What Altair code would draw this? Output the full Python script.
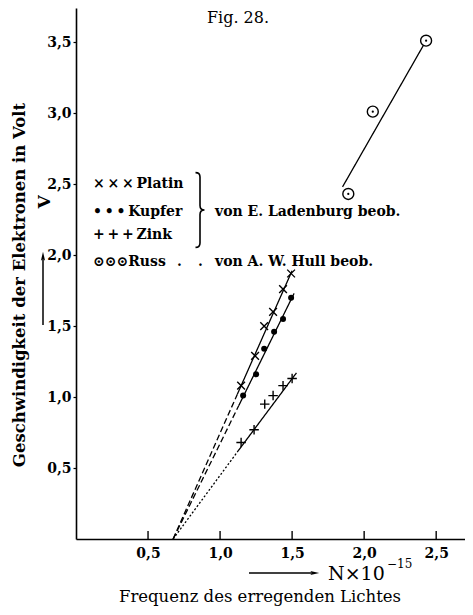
import altair as alt
import pandas as pd

SERIF = "DejaVu Serif"

# ---- data ----
platin_x = [1.146, 1.243, 1.306, 1.368, 1.437, 1.493]
platin_y = [1.08, 1.29, 1.50, 1.60, 1.76, 1.87]
kupfer_x = [1.16, 1.25, 1.306, 1.375, 1.437, 1.493]
kupfer_y = [1.01, 1.16, 1.34, 1.46, 1.55, 1.70]
zink_x = [1.146, 1.236, 1.31, 1.368, 1.437, 1.50]
zink_y = [0.68, 0.77, 0.95, 1.01, 1.08, 1.13]
russ_x = [1.89, 2.06, 2.43]
russ_y = [2.43, 3.01, 3.51]

# fitted lines: [intercept point, start of solid part, end]
platin_fit_x = [0.674, 1.12, 1.50]
platin_fit_y = [0.0, 1.02, 1.89]
kupfer_fit_x = [0.674, 1.13, 1.514]
kupfer_fit_y = [0.0, 0.94, 1.73]
zink_fit_x = [0.674, 1.125, 1.53]
zink_fit_y = [0.0, 0.62, 1.17]
russ_fit_x = [1.85, 2.43]
russ_fit_y = [2.48, 3.51]

x_ticks = [0.5, 1.0, 1.5, 2.0, 2.5]
y_ticks = [0.5, 1.0, 1.5, 2.0, 2.5, 3.0, 3.5]

W, H = 389, 531
XMAX, YMAX = 2.70, 3.74

xs = alt.Scale(domain=[0, XMAX], nice=False, zero=False)
ys = alt.Scale(domain=[0, YMAX], nice=False, zero=False)

label_expr = "replace(format(datum.value, '.1f'), '.', ',')"

X = alt.X("x:Q", scale=xs, title=None,
          axis=alt.Axis(values=x_ticks, labelExpr=label_expr, tickSize=0,
                        labelFont=SERIF, labelFontWeight="bold", labelFontSize=14,
                        labelColor="black", labelPadding=7, domainColor="black",
                        domainWidth=1.6, grid=False))
Y = alt.Y("y:Q", scale=ys, title=None,
          axis=alt.Axis(values=y_ticks, labelExpr=label_expr, tickSize=3,
                        tickColor="black", tickWidth=1.2,
                        labelFont=SERIF, labelFontWeight="bold", labelFontSize=14,
                        labelColor="black", labelPadding=2, domainColor="black",
                        domainWidth=1.6, grid=False))


def pts(xv, yv):
    return pd.DataFrame({"x": xv, "y": yv})


def fit_df(name, fx, fy, dash_style):
    rows = []
    rows.append({"x": fx[0], "y": fy[0], "seg": name + "_a", "style": dash_style})
    rows.append({"x": fx[1], "y": fy[1], "seg": name + "_a", "style": dash_style})
    rows.append({"x": fx[1], "y": fy[1], "seg": name + "_b", "style": "solid"})
    rows.append({"x": fx[2], "y": fy[2], "seg": name + "_b", "style": "solid"})
    return rows


rows = fit_df("platin", platin_fit_x, platin_fit_y, "dashed")
rows += fit_df("kupfer", kupfer_fit_x, kupfer_fit_y, "dashed")
rows += fit_df("zink", zink_fit_x, zink_fit_y, "dotted")
rows += [{"x": russ_fit_x[0], "y": russ_fit_y[0], "seg": "russ", "style": "solid"},
         {"x": russ_fit_x[1], "y": russ_fit_y[1], "seg": "russ", "style": "solid"}]
lines_df = pd.DataFrame(rows)

base_axes = alt.Chart(pts([0], [0])).mark_point(opacity=0).encode(x=X, y=Y)

lines = alt.Chart(lines_df).mark_line(color="black", strokeWidth=1.3).encode(
    x=alt.X("x:Q", scale=xs), y=alt.Y("y:Q", scale=ys), detail="seg:N",
    strokeDash=alt.StrokeDash("style:N", legend=None,
                              scale=alt.Scale(domain=["solid", "dashed", "dotted"],
                                              range=[[1, 0], [6, 3], [2, 2]])))

XSHAPE = "M-1,-1L1,1M-1,1L1,-1"
PSHAPE = "M-1,0L1,0M0,-1L0,1"

platin = alt.Chart(pts(platin_x, platin_y)).mark_point(
    shape=XSHAPE, size=60, color="black", strokeWidth=1.4, filled=False, opacity=1
).encode(x=alt.X("x:Q", scale=xs), y=alt.Y("y:Q", scale=ys))
kupfer = alt.Chart(pts(kupfer_x, kupfer_y)).mark_point(
    shape="circle", size=36, color="black", filled=True, opacity=1
).encode(x=alt.X("x:Q", scale=xs), y=alt.Y("y:Q", scale=ys))
zink = alt.Chart(pts(zink_x, zink_y)).mark_point(
    shape=PSHAPE, size=90, color="black", strokeWidth=1.4, filled=False, opacity=1
).encode(x=alt.X("x:Q", scale=xs), y=alt.Y("y:Q", scale=ys))
russ_o = alt.Chart(pts(russ_x, russ_y)).mark_point(
    shape="circle", size=120, color="black", strokeWidth=1.4, filled=False,
    fill="white", fillOpacity=1, opacity=1
).encode(x=alt.X("x:Q", scale=xs), y=alt.Y("y:Q", scale=ys))
russ_d = alt.Chart(pts(russ_x, russ_y)).mark_point(
    shape="circle", size=5, color="black", filled=True, opacity=1
).encode(x=alt.X("x:Q", scale=xs), y=alt.Y("y:Q", scale=ys))

xt = alt.Chart(pd.DataFrame({"x": x_ticks})).mark_rule(color="black", strokeWidth=1.4).encode(
    x=alt.X("x:Q", scale=xs), y=alt.value(H), y2=alt.value(H - 8))

dummy = pd.DataFrame({"a": [0]})


def label(txt, x, y, size=15, weight="bold", angle=0, align="left", font=SERIF):
    return alt.Chart(dummy).mark_text(
        text=txt, fontSize=size, fontWeight=weight, angle=angle, align=align,
        baseline="middle", font=font, color="black"
    ).encode(x=alt.value(x), y=alt.value(y))


ARROW = "M0,-1L0.4,0.7L0,0.35L-0.4,0.7Z"
BRACE = "M-0.12,-1Q0,-1 0,-0.88L0,-0.12Q0,0 0.12,0Q0,0 0,0.12L0,0.88Q0,1 -0.12,1"

texts = [
    label("Fig. 28.", 162, 10, size=16, weight="normal", align="center"),
    label("Geschwindigkeit der Elektronen in Volt", -56, 277, size=16.5, angle=270, align="center"),
    label("V", -31, 194, size=17, angle=270, align="center"),
    label("×\u2009×\u2009×\u2009Platin", 17, 176, size=14),
    label("•\u2009•\u2009•\u2009Kupfer", 17, 204, size=14),
    label("+\u2009+\u2009+\u2009Zink", 17, 227, size=14),
    label("⊙⊙⊙Russ", 17, 254, size=14),
    label(".", 101, 254, size=14),
    label(".", 122, 254, size=14),
    label("von E. Ladenburg beob.", 139, 204, size=14),
    label("von A. W. Hull beob.", 139, 254, size=14),
    label("N×10", 252, 566, size=19, weight="normal"),
    label("−15", 311, 556, size=12, weight="normal"),
    label("Frequenz des erregenden Lichtes", 184, 589, size=16.5, weight="normal", align="center"),
]

brace = alt.Chart(dummy).mark_point(shape=BRACE, size=5600, filled=False, color="black",
                                    strokeWidth=1.6, opacity=1).encode(
    x=alt.value(124), y=alt.value(202))
yarrow = alt.Chart(dummy).mark_rule(color="black", strokeWidth=1.5).encode(
    x=alt.value(-33), y=alt.value(250), y2=alt.value(317))
yhead = alt.Chart(dummy).mark_point(shape=ARROW, size=110, filled=True, color="black", opacity=1).encode(
    x=alt.value(-33), y=alt.value(249))
xarrow = alt.Chart(dummy).mark_rule(color="black", strokeWidth=1.5).encode(
    y=alt.value(565), x=alt.value(173), x2=alt.value(236))
xhead = alt.Chart(dummy).mark_point(shape=ARROW, size=110, filled=True, color="black", opacity=1, angle=90).encode(
    x=alt.value(238), y=alt.value(565))

chart = alt.layer(base_axes, lines, xt, platin, kupfer, zink, russ_o, russ_d,
                  brace, yarrow, yhead, xarrow, xhead, *texts).properties(
    width=W, height=H, autosize="none",
    padding={"left": 68, "top": 0, "right": 0, "bottom": 68},
    background="white",
).configure_view(stroke=None)

chart.save("out.html", embed_options={"renderer": "svg", "actions": False})
